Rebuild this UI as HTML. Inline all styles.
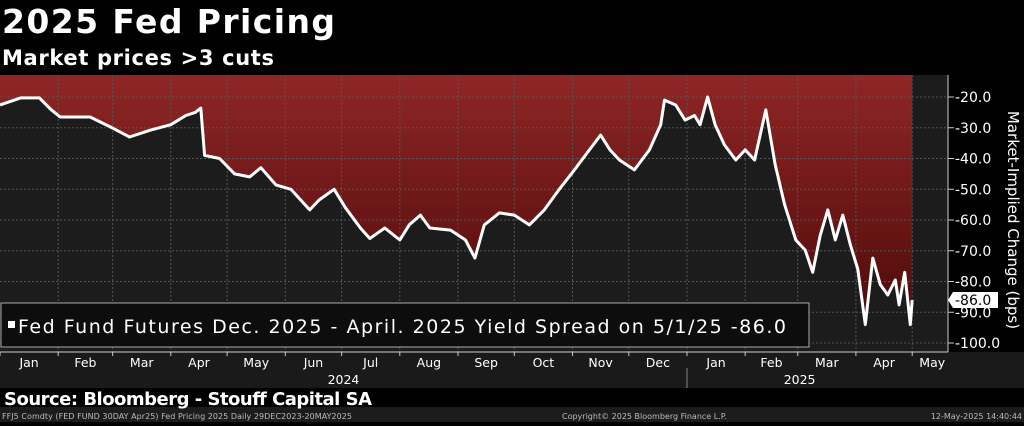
<!DOCTYPE html>
<html><head><meta charset="utf-8"><style>
body{margin:0;width:1024px;height:422px;background:#000;overflow:hidden;font-family:"DejaVu Sans","Liberation Sans",sans-serif;}
</style></head><body>
<svg width="1024" height="422" xmlns="http://www.w3.org/2000/svg" font-family="DejaVu Sans, Liberation Sans, sans-serif">
<defs><linearGradient id="rg" x1="0" y1="0" x2="0" y2="1"><stop offset="0" stop-color="#8f2626"/><stop offset="1" stop-color="#4e0a0a"/></linearGradient></defs>
<rect x="0" y="0" width="1024" height="75" fill="#000"/>
<text x="2" y="33" fill="#fff" font-size="33" font-weight="bold" textLength="333">2025 Fed Pricing</text>
<text x="2" y="65" fill="#fff" font-size="21" font-weight="bold" textLength="272">Market prices &gt;3 cuts</text>
<rect x="0" y="75" width="948" height="277" fill="#1c1c1c"/>
<rect x="948" y="75" width="76" height="277" fill="#000"/>
<rect x="0" y="352" width="1024" height="36" fill="#1a1a1a"/>
<rect x="0" y="388" width="1024" height="19" fill="#000"/>
<rect x="0" y="407" width="1024" height="15" fill="#1c1c1c"/>
<g id="fill"></g><g id="grid"></g><g id="line"></g><g id="yaxis"></g><g id="xaxis"></g>
<text x="4" y="405" fill="#fff" font-size="18" font-weight="bold" textLength="368">Source: Bloomberg - Stouff Capital SA</text>
<text x="2" y="419" fill="#bbb" font-size="8" textLength="350">FFJ5 Comdty (FED FUND 30DAY   Apr25) Fed Pricing 2025  Daily 29DEC2023-20MAY2025</text>
<text x="562" y="419" fill="#bbb" font-size="8">Copyright© 2025 Bloomberg Finance L.P.</text>
<text x="1022" y="419" fill="#bbb" font-size="8" text-anchor="end">12-May-2025 14:40:44</text>
<g>
<rect x="1" y="303" width="808" height="44" fill="#0d0d0d" stroke="#aaa" stroke-width="1"/>
<rect x="8" y="321" width="7" height="7" fill="#fff"/>
<text x="18" y="333" fill="#fff" font-size="19" textLength="768">Fed Fund Futures Dec. 2025 - April. 2025 Yield Spread on 5/1/25 -86.0</text>
</g>
<text x="1008" y="220" fill="#fff" font-size="15" text-anchor="middle" transform="rotate(90 1008 220)">Market-Implied Change (bps)</text>
<g id="lastlabel"></g>
</svg>
<script>
const dayOffsets=[0,11,21,27,32,48,59,69,80,91,99,104,107,109,117,125,133,139,147,155,165,170,178,184,192,197,205,213,218,224,229,240,248,253,258,266,274,282,290,298,306,314,320,325,330,338,346,352,354,360,365,370,373,377,381,386,392,397,402,408,413,418,424,429,433,437,441,445,449,453,457,461,465,469,473,477,479,482,485,486];
const spreadValues=[-22.6,-20.3,-20.3,-24,-26.5,-26.5,-29.8,-33,-30.8,-29,-26,-25,-23.6,-39,-40,-45,-46,-43,-48.6,-50,-56.7,-53.5,-50,-56,-62.6,-66,-62.6,-66.5,-61.6,-58.4,-62.6,-63.3,-66.5,-72.4,-61.6,-57.7,-58.4,-61.6,-56.7,-50,-43.7,-37.2,-32.4,-37.2,-40.5,-43.7,-37.2,-29,-21,-22.6,-27.5,-26,-29,-20,-29,-35.6,-40.5,-37.2,-40.5,-24.2,-42,-55,-66.5,-69.8,-77,-65,-56.7,-66.5,-58.4,-68,-76,-94,-72.4,-81,-84.4,-79.5,-87.6,-77,-94,-86];
const yTicks=[-20,-30,-40,-50,-60,-70,-80,-90,-100];
const monthLabels=["Jan","Feb","Mar","Apr","May","Jun","Jul","Aug","Sep","Oct","Nov","Dec","Jan","Feb","Mar","Apr","May"];
const monthStartDays=[0,31,60,91,121,152,182,213,244,274,305,335,366,397,425,456,486];
const yearLabels=["2024","2025"];
const NS="http://www.w3.org/2000/svg";
const xS=d=>d*1.877;
const yS=v=>97+(-20-v)*3.075;
function mk(t,a,p){const e=document.createElementNS(NS,t);for(const k in a)e.setAttribute(k,a[k]);document.getElementById(p).appendChild(e);return e;}
let pts=dayOffsets.map((d,i)=>xS(d).toFixed(1)+","+yS(spreadValues[i]).toFixed(1));
const area=mk("polygon",{points:"0,75 "+pts.join(" ")+" "+xS(dayOffsets[dayOffsets.length-1]).toFixed(1)+",75",fill:"url(#rg)"},"fill");


yTicks.forEach(v=>{const y=yS(v);
 const g=mk("line",{x1:0,x2:948,y1:y,y2:y,stroke:"#555","stroke-dasharray":"2,2","stroke-width":1},"grid");
 
 
 mk("line",{x1:948,x2:954,y1:y,y2:y,stroke:"#ccc"},"yaxis");
 const t=mk("text",{x:955,y:y+5,fill:"#fff","font-size":"14"},"yaxis");t.textContent=v.toFixed(1);
 
 
});
mk("line",{x1:948,x2:948,y1:75,y2:352,stroke:"#ccc"},"yaxis");
mk("line",{x1:0,x2:948,y1:352,y2:352,stroke:"#ccc"},"xaxis");
monthStartDays.forEach((d,i)=>{const x=xS(d);
 if(i>0){const g=mk("line",{x1:x,x2:x,y1:75,y2:352,stroke:"#555","stroke-dasharray":"2,2"},"grid");
 
 }
 mk("line",{x1:x,x2:x,y1:352,y2:356,stroke:"#ccc"},"xaxis");
 const next=i<monthStartDays.length-1?xS(monthStartDays[i+1]):x+40;
 const t=mk("text",{x:(x+next)/2,y:367,fill:"#fff","font-size":"12.5","text-anchor":"middle"},"xaxis");t.textContent=monthLabels[i];
 
 
});
mk("line",{x1:xS(366),x2:xS(366),y1:368,y2:388,stroke:"#888"},"xaxis");
[[xS(183),yearLabels[0]],[xS(426),yearLabels[1]]].forEach(([x,s])=>{const t=mk("text",{x:x,y:384,fill:"#fff","font-size":"12.5","text-anchor":"middle"},"xaxis");t.textContent=s;
 
 });
const ln=mk("polyline",{points:pts.join(" "),fill:"none",stroke:"#fff","stroke-width":3,"stroke-linejoin":"round"},"line");


const last=spreadValues[spreadValues.length-1],ly=yS(last);
mk("polygon",{points:`948,${ly} 953,${ly-8} 998,${ly-8} 998,${ly+8} 953,${ly+8}`,fill:"#fff"},"lastlabel");
const lt=mk("text",{x:955,y:ly+5,fill:"#000","font-size":"14"},"lastlabel");lt.textContent=last.toFixed(1);


</script>
</body></html>
